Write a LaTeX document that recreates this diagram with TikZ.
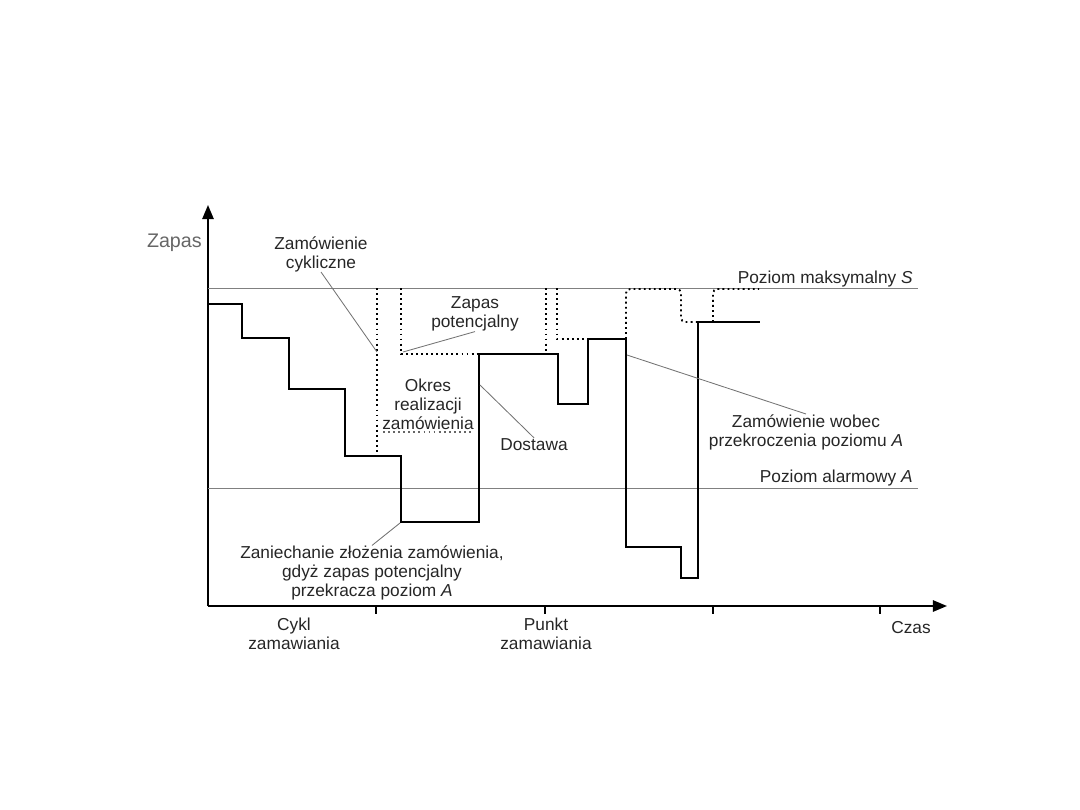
\documentclass[tikz,border=0pt]{standalone}
\usepackage{fontspec}
\setmainfont{Liberation Sans}
\usetikzlibrary{arrows.meta}

\begin{document}
\begin{tikzpicture}[x=0.025cm,y=-0.025cm,
  lbl/.style={inner sep=0pt, align=center, text=black!85, font=\fontsize{12.3}{13.6}\selectfont},
  stock/.style={line width=2.1pt},
  dotline/.style={line width=1.3pt, dash pattern=on 1.3pt off 2.3pt},
  leader/.style={line width=0.6pt, black!55},
  level/.style={line width=0.7pt, black!50},
  axis/.style={line width=1.4pt, -{Triangle[length=10pt,width=8pt]}}]
\useasboundingbox (0,0) rectangle (1080,810);

% axes
\coordinate (O) at (208,606);
\coordinate (ytip) at (208,205);
\coordinate (xtip) at (947,606);
\draw[axis] (O) -- (ytip);
\draw[axis] (O) -- (xtip);
\foreach \t in {376,545,713,880}
  \draw[line width=1pt] (\t,606) -- (\t,614);

% levels S and A
\draw[level] (208,288) -- (918,288);
\draw[level] (208,488) -- (918,488);

% stock
\draw[stock] (208,304) -| (242,338) -| (289,389) -| (345,456) -| (401,522) -| (479,354)
  -| (558,404) -| (588,339) -| (626,547) -| (681,578) -| (698,322) -- (760,322);

% potential stock
\draw[dotline] (377,288) -- (377,456);
\draw[dotline] (401,288) |- (479,354);
\draw[dotline, line width=0.8pt, black!60] (383,432) -- (474,432);
\draw[dotline] (546,288) -- (546,354);
\draw[dotline] (557,288) |- (588,339);
\draw[dotline, rounded corners=3pt] (626,339) |- (681,289) |- (698,322);
\draw[dotline, rounded corners=3pt] (713,322) |- (759,289);

% labels
\node[lbl, font=\fontsize{14}{16}\selectfont, text=black!60, anchor=base east] (zapas) at (202,247) {Zapas};
\node[lbl, anchor=base east] (pmax) at (913,283) {Poziom maksymalny \textit{S}};
\node[lbl, anchor=base east] (palarm) at (913,482) {Poziom alarmowy \textit{A}};
\node[lbl] (cykl) at (321,254) {Zamówienie\\cykliczne};
\node[lbl] (potenc) at (475,314) {Zapas\\potencjalny};
\node[lbl] (okres) at (428,404) {Okres\\realizacji\\zamówienia};
\node[lbl, anchor=base] (dostawa) at (534,450) {Dostawa};
\node[lbl] (wobec) at (806,432) {Zamówienie wobec\\przekroczenia poziomu \textit{A}};
\node[lbl] (zaniech) at (372,573) {Zaniechanie złożenia zamówienia,\\gdyż zapas potencjalny\\przekracza poziom \textit{A}};
\node[lbl] (cyklzam) at (294,634) {Cykl\\zamawiania};
\node[lbl] (punkt) at (546,634) {Punkt\\zamawiania};
\node[lbl, anchor=base] (czas) at (911,633) {Czas};

% leaders
\coordinate (cykl-pt) at (377,352);
\coordinate (potenc-pt) at (403,352);
\coordinate (dostawa-pt) at (480,385);
\coordinate (wobec-pt) at (627,355);
\coordinate (zaniech-pt) at (400,523);
\draw[leader] (cykl.south) -- (cykl-pt);
\draw[leader] (potenc.south) -- (potenc-pt);
\draw[leader] (dostawa.north) -- (dostawa-pt);
\draw[leader] (wobec.north) -- (wobec-pt);
\draw[leader] (zaniech.north) -- (zaniech-pt);
\end{tikzpicture}
\end{document}
